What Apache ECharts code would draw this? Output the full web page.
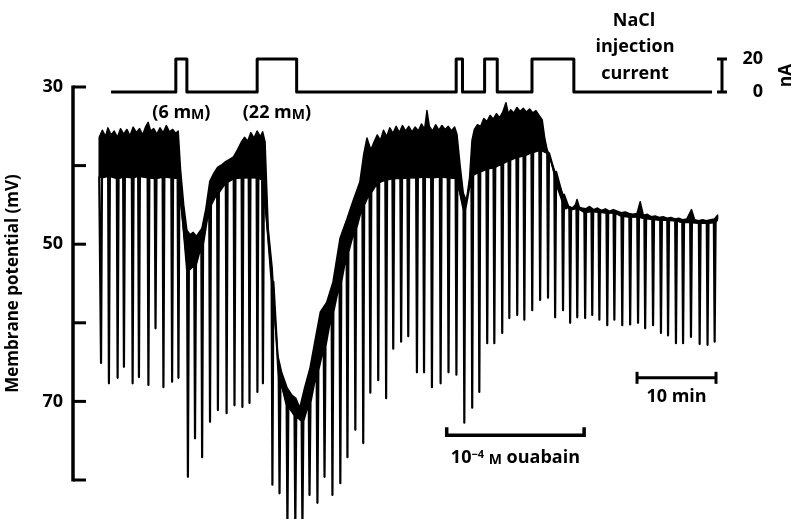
<!DOCTYPE html>
<html>
<head>
<meta charset="utf-8">
<script src="https://cdn.jsdelivr.net/npm/echarts@6/dist/echarts.min.js"></script>
<style>
  html, body { margin: 0; padding: 0; background: #fff; }
  #chart { width: 794px; height: 519px; }
</style>
</head>
<body>
<div id="chart"></div>
<script>
// Membrane potential record: time in min, potential in mV (more negative = lower on the page)
const spikeMin = [0.1, 1.1, 2.2, 3.0, 4.1, 4.9, 6.1, 7.0, 8.0, 9.1, 9.9, 11.1, 12.0, 12.9, 13.9, 14.9, 16.0, 17.0, 18.0, 18.9,
  19.9, 20.6, 21.8, 22.7, 23.7, 24.7, 25.6, 26.5, 27.5, 28.4, 29.4, 30.4, 31.3, 32.3, 33.3, 34.2, 35.2, 36.2, 37.1, 38.1,
  39.0, 40.1, 41.0, 42.0, 43.1, 44.1, 45.1, 46.1, 47.1, 48.0, 49.0, 49.9, 50.9, 51.8, 52.8, 53.7, 54.7, 55.7, 56.7, 57.6,
  58.6, 59.5, 60.4, 61.4, 62.3, 63.2, 64.2, 65.1, 66.1, 67.1, 68.1, 69.0, 70.0, 71.0, 71.9, 72.9, 73.8, 74.8, 75.9, 76.9, 77.8];
// potential from which each hyperpolarizing deflection starts
const spikeBase = [41.5, 41.3, 41.6, 41.4, 41.5, 41.3, 41.5, 41.6, 41.4, 41.5, 41.6, 53.3, 52.6, 50.0, 45.0, 43.4, 42.1, 41.6, 41.5, 41.5,
  41.5, 41.8, 54.8, 67.0, 70.5, 71.8, 72.5, 70.1, 66.0, 63.0, 58.6, 54.8, 51.0, 48.0, 45.0, 43.4, 42.1, 41.8, 41.6, 41.6,
  41.5, 41.5, 41.4, 41.5, 41.4, 41.5, 41.6, 45.6, 41.2, 40.8, 40.4, 40.2, 39.7, 39.3, 38.9, 38.7, 38.3, 38.0, 38.4, 40.8,
  43.7, 45.6, 45.4, 45.9, 45.8, 45.9, 46.0, 46.0, 46.4, 46.5, 46.5, 46.7, 46.8, 46.9, 46.9, 47.0, 47.2, 47.2, 47.3, 47.3, 47.2];
// potential reached at the tip of each deflection
const spikeTip = [65.1, 67.7, 67.0, 65.6, 67.7, 66.9, 67.9, 60.7, 68.2, 67.5, 67.0, 79.6, 74.7, 77.1, 72.6, 71.1, 71.5, 70.5, 70.7, 70.2,
  68.8, 67.7, 80.6, 81.7, 86.0, 86.0, 86.0, 81.9, 82.9, 79.6, 81.9, 80.4, 77.1, 73.6, 75.3, 68.9, 67.3, 69.6, 63.3, 62.4,
  61.7, 66.3, 66.3, 68.2, 67.7, 66.3, 66.6, 72.7, 70.8, 68.8, 62.6, 62.6, 61.3, 59.4, 59.0, 59.6, 58.4, 57.1, 56.8, 59.3,
  58.4, 60.0, 59.3, 59.4, 59.0, 59.6, 60.3, 59.6, 60.3, 60.2, 60.0, 60.7, 60.3, 61.3, 61.6, 62.6, 62.6, 61.8, 62.7, 62.8, 62.4];
const traceStart = [-0.1, 41.4];
const traceEnd = [78.2, 46.8];

// upper edge of the noisy recording band
const noiseMin = [-0.1, 0.3, 0.7, 1.0, 1.4, 1.8, 2.2, 2.6, 3.0, 3.4, 3.8, 4.2, 4.6, 5.0, 5.4, 5.8, 6.1, 6.4, 6.8, 7.2,
  7.6, 8.0, 8.4, 8.8, 9.2, 9.6, 9.9, 10.2, 10.6, 11.0, 11.4, 11.8, 12.2, 12.6, 12.9, 13.4, 13.9, 14.4, 14.9, 15.4,
  15.9, 16.4, 16.9, 17.4, 17.9, 18.3, 18.7, 19.1, 19.5, 19.9, 20.3, 20.6, 20.9, 21.3, 21.8, 22.2, 22.5, 23.0, 23.7, 24.3,
  24.8, 25.3, 25.9, 26.6, 27.2, 27.9, 28.7, 29.5, 30.4, 31.3, 32.0, 32.9, 33.4, 33.8, 34.3, 34.7, 35.1, 35.5, 35.9, 36.3,
  36.7, 37.1, 37.5, 37.9, 38.3, 38.7, 39.1, 39.5, 39.9, 40.3, 40.7, 41.1, 41.4, 41.7, 42.1, 42.5, 42.9, 43.3, 43.7, 44.1,
  44.5, 44.9, 45.2, 45.6, 46.0, 46.4, 46.8, 47.1, 47.4, 47.8, 48.2, 48.6, 49.0, 49.4, 49.8, 50.2, 50.6, 51.0, 51.4, 51.7,
  52.0, 52.4, 52.8, 53.2, 53.6, 54.0, 54.4, 54.8, 55.2, 55.6, 56.0, 56.3, 56.6, 57.0, 57.4, 57.8, 58.2, 58.6, 59.0, 59.4,
  59.8, 60.2, 60.4, 60.7, 61.0, 61.5, 62.0, 62.5, 63.0, 63.5, 64.0, 64.5, 65.0, 65.5, 66.0, 66.5, 67.0, 67.5, 68.0, 68.4,
  68.8, 69.3, 69.8, 70.3, 70.8, 71.3, 71.8, 72.3, 72.8, 73.3, 73.8, 74.3, 74.9, 75.3, 75.8, 76.3, 76.8, 77.3, 77.8, 78.2];
const noiseTop = [36.4, 35.5, 36.3, 35.2, 36.1, 35.6, 36.4, 35.3, 36.0, 35.4, 36.2, 35.1, 35.8, 35.3, 36.1, 35.0, 34.5, 35.6, 35.3, 36.0,
  35.2, 35.8, 34.9, 35.7, 35.4, 35.9, 35.6, 40.5, 45.0, 48.2, 48.8, 48.5, 49.0, 48.4, 48.0, 45.5, 42.0, 41.0, 40.2, 39.9,
  39.5, 39.2, 38.9, 38.0, 37.0, 36.4, 36.9, 35.8, 36.5, 35.6, 36.3, 35.7, 37.0, 48.0, 53.0, 60.0, 64.1, 66.3, 68.3, 69.2,
  69.6, 70.8, 68.3, 65.7, 62.4, 58.6, 57.4, 54.8, 49.2, 46.7, 44.6, 42.1, 38.5, 36.5, 38.0, 37.0, 36.1, 36.8, 35.5, 36.3,
  35.2, 35.9, 35.0, 35.8, 34.9, 35.6, 35.0, 35.7, 35.1, 35.6, 34.7, 35.4, 33.0, 35.0, 35.6, 34.8, 35.5, 34.9, 35.4, 35.0,
  35.6, 35.1, 36.0, 40.0, 43.5, 44.5, 41.5, 36.8, 35.4, 34.8, 35.0, 34.0, 34.4, 33.6, 34.1, 33.4, 33.9, 33.2, 32.0, 33.4,
  32.9, 33.3, 32.6, 33.1, 32.7, 33.2, 32.8, 33.3, 33.0, 33.6, 34.2, 36.4, 37.9, 39.0, 40.6, 42.5, 43.6, 44.8, 45.5, 45.2,
  45.4, 45.0, 44.3, 45.3, 45.4, 45.5, 45.2, 45.6, 45.4, 45.7, 45.5, 45.8, 45.6, 45.8, 46.0, 45.9, 46.1, 46.2, 46.1, 44.6,
  46.3, 46.2, 46.5, 46.4, 46.6, 46.5, 46.7, 46.6, 46.8, 46.7, 46.9, 46.8, 45.6, 46.9, 47.0, 46.9, 47.0, 46.9, 46.8, 46.3];

// NaCl injection current pulses (nA)
const currentSpan = [1.4, 77.5];
const pulseStart = [9.6, 19.9, 45.1, 48.7, 54.7];
const pulseEnd = [11.0, 24.9, 45.9, 50.3, 60.0];
const pulseAmp = [20, 20, 20, 20, 20];
const pulseConc = ['6', '22', '', '', ''];

// bath application and time scale
const ouabainMin = [43.9, 61.3];
const timeBarMin = [68, 78];
const timeBarLabel = '10 min';

const potentialRange = [30, 80];
const potentialTickMarks = [30, 40, 50, 60, 70, 80];
const potentialTicks = [30, 50, 70];
const currentTicks = [0, 20];

const FONT = '"Open Sans", sans-serif';
const INK = '#000';
const FS = 18;
const TIME_RANGE = [-3.42, 78];   // visible time window, min
const OUABAIN_LEVEL = 74.3;       // mV level at which the ouabain bar sits
const TIMEBAR_LEVEL = 67.0;       // mV level of the time scale bar
const CAL_BAR_AT = 78.76;         // time position of the current calibration bar
const TICK_LEN = 13;

// recording trace: baseline joined through each hyperpolarizing deflection
const traceData = [traceStart];
spikeMin.forEach((t, i) => {
  traceData.push([t - 0.07, spikeBase[i]], [t + 0.03, spikeTip[i]], [t + 0.15, spikeBase[i]]);
});
traceData.push(traceEnd);

// injection current as a step trace
const currentData = [[currentSpan[0], 0]];
pulseStart.forEach((s, i) => {
  currentData.push([s, 0], [s, pulseAmp[i]], [pulseEnd[i], pulseAmp[i]], [pulseEnd[i], 0]);
});
currentData.push([currentSpan[1], 0]);

const concData = [];
pulseStart.forEach((s, i) => {
  if (pulseConc[i]) concData.push([(s + pulseEnd[i]) / 2, 0, pulseConc[i]]);
});

const richM = {
  sc: { fontSize: 14, fontWeight: 'bold', fontFamily: FONT, fill: INK, verticalAlign: 'bottom' },
  sup: { fontSize: 11, fontWeight: 'bold', fontFamily: FONT, fill: INK, verticalAlign: 'top' }
};
const boldFont = 'bold ' + FS + 'px ' + FONT;

const chart = echarts.init(document.getElementById('chart'), null, { renderer: 'canvas' });

chart.setOption({
  animation: false,
  backgroundColor: '#fff',
  grid: [
    { left: 73, right: 78, top: 87, bottom: 39, containLabel: false, outerBoundsMode: 'none' },
    { left: 73, right: 78, top: 59, height: 33, containLabel: false, outerBoundsMode: 'none' }
  ],
  xAxis: [
    { gridIndex: 0, type: 'value', min: TIME_RANGE[0], max: TIME_RANGE[1], show: false },
    { gridIndex: 1, type: 'value', min: TIME_RANGE[0], max: TIME_RANGE[1], show: false }
  ],
  yAxis: [
    {
      gridIndex: 0, type: 'value', min: potentialRange[0], max: potentialRange[1], interval: 10, inverse: true,
      position: 'left',
      axisLine: { show: false },
      axisTick: { show: false },
      axisLabel: {
        margin: 10, color: INK, fontSize: FS, fontWeight: 'bold', fontFamily: FONT,
        formatter: v => (potentialTicks.indexOf(v) >= 0 ? String(v) : '')
      },
      splitLine: { show: false },
      name: 'Membrane potential (mV)', nameLocation: 'middle', nameGap: 51, nameRotate: 90,
      nameTextStyle: { color: INK, fontSize: 17, fontWeight: 'bold', fontFamily: FONT }
    },
    {
      gridIndex: 1, type: 'value', min: currentTicks[0], max: currentTicks[1], interval: currentTicks[1] - currentTicks[0],
      position: 'right',
      axisLine: { show: false },
      axisTick: { show: false },
      axisLabel: { show: true, margin: 47, align: 'right', color: INK, fontSize: FS, fontWeight: 'bold', fontFamily: FONT },
      splitLine: { show: false },
      name: 'nA', nameLocation: 'middle', nameGap: 62, nameRotate: 90,
      nameTextStyle: { color: INK, fontSize: 17, fontWeight: 'bold', fontFamily: FONT }
    }
  ],
  graphic: [
    { type: 'text', x: 634, y: 21, style: { text: 'NaCl', fill: INK, font: boldFont, align: 'center', verticalAlign: 'middle' } },
    { type: 'text', x: 635, y: 47, style: { text: 'injection', fill: INK, font: boldFont, align: 'center', verticalAlign: 'middle' } },
    { type: 'text', x: 635, y: 74, style: { text: 'current', fill: INK, font: boldFont, align: 'center', verticalAlign: 'middle' } }
  ],
  series: [
    {
      // spine and inward ticks of the potential axis, along the left edge of the plot
      name: 'potential axis', type: 'custom', xAxisIndex: 0, yAxisIndex: 0,
      data: [[TIME_RANGE[0], potentialRange[0], potentialRange[1]]],
      renderItem: (params, api) => {
        const a = api.coord([api.value(0), api.value(1)]);
        const b = api.coord([api.value(0), api.value(2)]);
        const children = [{
          type: 'line', shape: { x1: a[0], y1: a[1] - 1.5, x2: b[0], y2: b[1] + 1.5 },
          style: { stroke: INK, lineWidth: 3.5 }
        }];
        potentialTickMarks.forEach(v => {
          const p = api.coord([api.value(0), v]);
          children.push({
            type: 'line', shape: { x1: p[0], y1: p[1], x2: p[0] + TICK_LEN, y2: p[1] },
            style: { stroke: INK, lineWidth: 3 }
          });
        });
        return { type: 'group', children };
      },
      z: 4
    },
    {
      name: 'injection current', type: 'line', xAxisIndex: 1, yAxisIndex: 1,
      data: currentData, showSymbol: false, symbol: 'none',
      lineStyle: { color: INK, width: 3, join: 'round' }, clip: false, z: 3
    },
    {
      name: 'current calibration', type: 'custom', xAxisIndex: 1, yAxisIndex: 1,
      data: [[CAL_BAR_AT, currentTicks[0], currentTicks[1]]],
      renderItem: (params, api) => {
        const lo = api.coord([api.value(0), api.value(1)]);
        const hi = api.coord([api.value(0), api.value(2)]);
        const s = { stroke: INK, lineWidth: 3 };
        return {
          type: 'group',
          children: [
            { type: 'line', shape: { x1: lo[0], y1: lo[1], x2: hi[0], y2: hi[1] }, style: s },
            { type: 'line', shape: { x1: lo[0] - 5, y1: lo[1], x2: lo[0] + 5, y2: lo[1] }, style: s },
            { type: 'line', shape: { x1: hi[0] - 5, y1: hi[1], x2: hi[0] + 5, y2: hi[1] }, style: s }
          ]
        };
      }
    },
    {
      name: 'NaCl concentration', type: 'custom', xAxisIndex: 1, yAxisIndex: 1,
      data: concData,
      renderItem: (params, api) => {
        const p = api.coord([api.value(0), 0]);
        const label = concData[params.dataIndex][2];
        return {
          type: 'text', x: p[0], y: p[1] + 21,
          style: {
            text: '(' + label + ' m{sc|M})', rich: richM, fill: INK,
            font: boldFont, align: 'center', verticalAlign: 'middle'
          }
        };
      }
    },
    {
      name: 'noise band', type: 'custom', xAxisIndex: 0, yAxisIndex: 0,
      data: [[traceStart[0], traceStart[1]]],
      renderItem: (params, api) => {
        const pts = noiseMin.map((t, i) => api.coord([t, noiseTop[i]]));
        pts.push(api.coord(traceEnd));
        for (let i = spikeMin.length - 1; i >= 0; i--) pts.push(api.coord([spikeMin[i], spikeBase[i]]));
        pts.push(api.coord(traceStart));
        return { type: 'polygon', shape: { points: pts }, style: { fill: INK, stroke: INK, lineWidth: 1.5, lineJoin: 'round' } };
      },
      z: 2
    },
    {
      name: 'membrane potential', type: 'line', xAxisIndex: 0, yAxisIndex: 0,
      data: traceData, showSymbol: false, symbol: 'none', clip: false,
      lineStyle: { color: INK, width: 2.2, join: 'round' }, z: 3
    },
    {
      name: 'ouabain', type: 'custom', xAxisIndex: 0, yAxisIndex: 0,
      data: [[ouabainMin[0], ouabainMin[1]]],
      renderItem: (params, api) => {
        const a = api.coord([api.value(0), OUABAIN_LEVEL]);
        const b = api.coord([api.value(1), OUABAIN_LEVEL]);
        return {
          type: 'group',
          children: [
            { type: 'polyline', shape: { points: [[a[0], a[1] - 8], [a[0], a[1]], [b[0], b[1]], [b[0], b[1] - 8]] },
              style: { stroke: INK, lineWidth: 3.5, fill: null } },
            { type: 'text', x: (a[0] + b[0]) / 2, y: a[1] + 23,
              style: { text: '10{sup|\u22124} {sc|M} ouabain', rich: richM, fill: INK,
                font: boldFont, align: 'center', verticalAlign: 'middle' } }
          ]
        };
      }
    },
    {
      name: 'time scale', type: 'custom', xAxisIndex: 0, yAxisIndex: 0,
      data: [[timeBarMin[0], timeBarMin[1]]],
      renderItem: (params, api) => {
        const a = api.coord([api.value(0), TIMEBAR_LEVEL]);
        const b = api.coord([api.value(1), TIMEBAR_LEVEL]);
        const s = { stroke: INK, lineWidth: 3 };
        return {
          type: 'group',
          children: [
            { type: 'line', shape: { x1: a[0], y1: a[1], x2: b[0], y2: b[1] }, style: s },
            { type: 'line', shape: { x1: a[0], y1: a[1] - 6, x2: a[0], y2: a[1] + 6 }, style: s },
            { type: 'line', shape: { x1: b[0], y1: b[1] - 6, x2: b[0], y2: b[1] + 6 }, style: s },
            { type: 'text', x: (a[0] + b[0]) / 2, y: a[1] + 19,
              style: { text: timeBarLabel, fill: INK, font: boldFont, align: 'center', verticalAlign: 'middle' } }
          ]
        };
      }
    }
  ]
});
</script>
</body>
</html>
